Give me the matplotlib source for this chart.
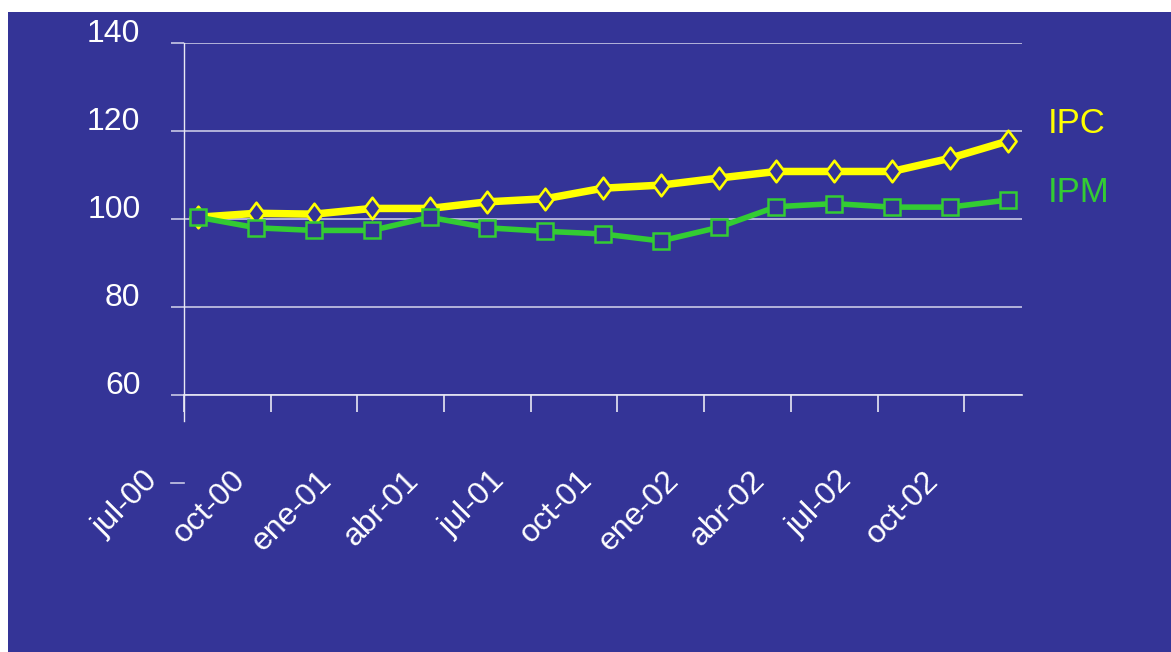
import matplotlib
matplotlib.use("Agg")
import matplotlib.pyplot as plt
from matplotlib.path import Path
from matplotlib.patches import Rectangle
from matplotlib.lines import Line2D
from matplotlib.transforms import ScaledTranslation, blended_transform_factory

# Months counted from July 2000; one observation every two months
months = [0.5, 2.5, 4.5, 6.5, 8.5, 10.5, 12.5, 14.5, 16.5, 18.5, 20.5, 22.5, 24.5, 26.5, 28.5]
ipc = [100.4, 101.3, 101.1, 102.4, 102.4, 103.9, 104.6, 107.0, 107.7, 109.3, 110.8, 110.8, 110.8, 113.8, 117.7]
ipm = [100.4, 98.0, 97.4, 97.4, 100.4, 98.0, 97.2, 96.6, 95.0, 98.1, 102.8, 103.5, 102.7, 102.7, 104.3]

tick_months = [0, 3, 6, 9, 12, 15, 18, 21, 24, 27]
tick_labels = ["jul-00", "oct-00", "ene-01", "abr-01", "jul-01",
               "oct-01", "ene-02", "abr-02", "jul-02", "oct-02"]
y_ticks = [60, 80, 100, 120, 140]

BG = "#343497"
YELLOW = "#FFFF00"
GREEN = "#33CC33"
AXIS = "#E8E8F4"
GRID = "#C8C8E6"
FONT = "Liberation Sans"

W, H = 1171, 652
fig = plt.figure(figsize=(W / 100, H / 100), dpi=100, facecolor="white")
fig.patches.append(Rectangle((8 / W, 0), 1 - 8 / W, (H - 12) / H,
                             transform=fig.transFigure, facecolor=BG,
                             edgecolor="none", zorder=-5))

ax = fig.add_axes([184 / W, (H - 395) / H, (1022 - 184) / W, (395 - 43) / H])
ax.patch.set_visible(False)
ax.set_xlim(0, 29)
ax.set_ylim(60, 140)

for s in ("top", "right"):
    ax.spines[s].set_visible(False)
ax.spines["left"].set_color(AXIS)
ax.spines["bottom"].set_color(AXIS)
ax.spines["left"].set_linewidth(1.0)
ax.spines["bottom"].set_linewidth(1.2)

ax.yaxis.grid(True, color=GRID, linewidth=1.2)
ax.set_axisbelow(True)

ax.set_yticks(y_ticks)
ax.set_yticklabels([str(v) for v in y_ticks], fontsize=23, family=FONT, color="white")
ax.tick_params(axis="y", direction="out", length=9.4, width=1.2, color=GRID, pad=22)

ax.set_xticks(tick_months)
ax.set_xticklabels(tick_labels, fontsize=23, family=FONT, color="white",
                   rotation=45, ha="right", va="center", rotation_mode="anchor")
ax.tick_params(axis="x", direction="out", length=12.2, width=1.2, color=AXIS, pad=0)

up = ScaledTranslation(0, 0.125, fig.dpi_scale_trans)
for lbl in ax.get_yticklabels():
    lbl.set_transform(lbl.get_transform() + up)
shift = ScaledTranslation(-0.30, -0.64, fig.dpi_scale_trans)
for lbl in ax.get_xticklabels():
    lbl.set_transform(lbl.get_transform() + shift)

# vertical axis continues a little below the category axis, with a stray tick at 40
ax.add_line(Line2D([0, 0], [0, -26 / 352], transform=ax.transAxes,
                   color=AXIS, linewidth=1.0, clip_on=False))
blend = blended_transform_factory(ax.transAxes, ax.transData)
ax.add_line(Line2D([-13 / 838, 0], [40, 40], transform=blend,
                   color=GRID, linewidth=1.2, clip_on=False))

diamond = Path([(0, 1), (0.75, 0), (0, -1), (-0.75, 0), (0, 1)],
               [Path.MOVETO, Path.LINETO, Path.LINETO, Path.LINETO, Path.CLOSEPOLY])

ax.plot(months, ipc, color=YELLOW, linewidth=5.4, marker=diamond, markersize=15.5,
        markerfacecolor=BG, markeredgecolor=YELLOW, markeredgewidth=1.9,
        clip_on=False, zorder=3, solid_joinstyle="round")
ax.plot(months, ipm, color=GREEN, linewidth=4.0, marker="s", markersize=12,
        markerfacecolor=BG, markeredgecolor=GREEN, markeredgewidth=1.8,
        clip_on=False, zorder=4, solid_joinstyle="round")

ax.text(1.031, 0.7727, "IPC", transform=ax.transAxes, color=YELLOW,
        fontsize=25, family=FONT, ha="left", va="center", clip_on=False)
ax.text(1.031, 0.574, "IPM", transform=ax.transAxes, color=GREEN,
        fontsize=25, family=FONT, ha="left", va="center", clip_on=False)

fig.savefig("out.png", dpi=100, facecolor="white")
